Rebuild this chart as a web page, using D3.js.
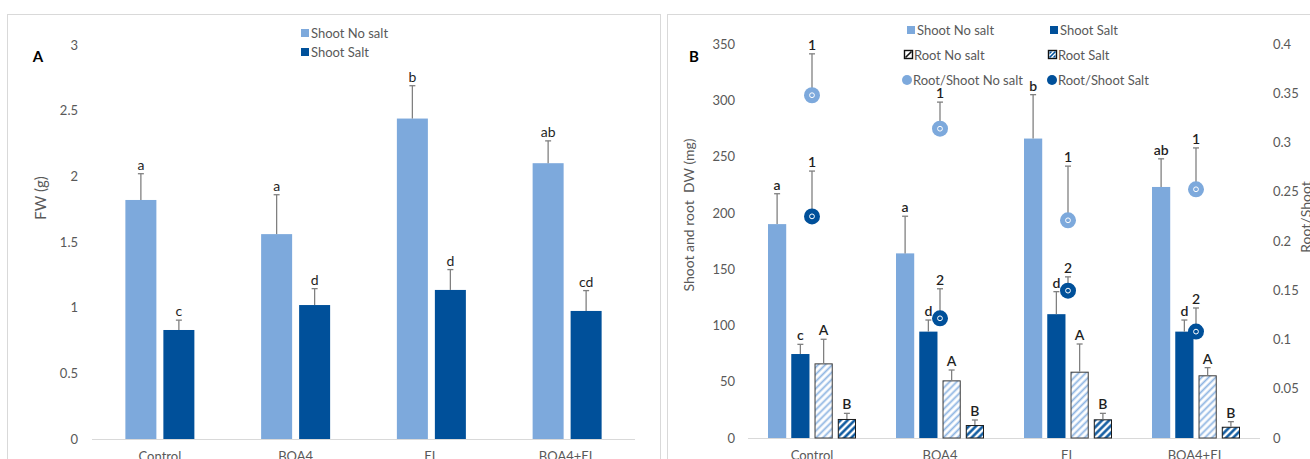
<!DOCTYPE html>
<html>
<head>
<meta charset="utf-8">
<script src="https://cdn.jsdelivr.net/npm/d3@7/dist/d3.min.js"></script>
<style>
  html, body { margin: 0; padding: 0; background: #fff; }
  svg { display: block; font-family: Lato, "Open Sans", sans-serif; }
</style>
</head>
<body>
<svg id="chart" width="1310" height="459"></svg>
<script>
// ---- data ----
const categories = ["Control", "BOA4", "EL", "BOA4+EL"];

// Panel A: fresh weight (g)
const fwTicks = [0, 0.5, 1, 1.5, 2, 2.5, 3];
const fwShootNoSalt = [1.82, 1.56, 2.44, 2.10];
const fwShootNoSaltErr = [0.20, 0.30, 0.25, 0.17];
const fwShootNoSaltLetters = ["a", "a", "b", "ab"];
const fwShootSalt = [0.83, 1.02, 1.135, 0.975];
const fwShootSaltErr = [0.075, 0.125, 0.155, 0.155];
const fwShootSaltLetters = ["c", "d", "d", "cd"];

// Panel B: dry weight (mg) and root/shoot ratio
const dwTicks = [0, 50, 100, 150, 200, 250, 300, 350];
const ratioTicks = [0, 0.05, 0.1, 0.15, 0.2, 0.25, 0.3, 0.35, 0.4];
const dwShootNoSalt = [190, 164, 266, 223];
const dwShootNoSaltErr = [27, 33, 39, 25];
const dwShootNoSaltLetters = ["a", "a", "b", "ab"];
const dwShootSalt = [74.6, 94.5, 110, 94.5];
const dwShootSaltErr = [8.6, 10.3, 20, 10.3];
const dwShootSaltLetters = ["c", "d", "d", "d"];
const dwRootNoSalt = [66.3, 51.2, 58.9, 55.7];
const dwRootNoSaltErr = [21.4, 9.2, 24.6, 6.8];
const dwRootNoSaltLetters = ["A", "A", "A", "A"];
const dwRootSalt = [16.9, 11.5, 16.6, 10];
const dwRootSaltErr = [5, 4.5, 5.3, 4.5];
const dwRootSaltLetters = ["B", "B", "B", "B"];
const ratioNoSalt = [0.348, 0.314, 0.221, 0.2525];
const ratioNoSaltErr = [0.042, 0.027, 0.055, 0.042];
const ratioNoSaltLabels = ["1", "1", "1", "1"];
const ratioSalt = [0.225, 0.1215, 0.1496, 0.108];
const ratioSaltErr = [0.046, 0.030, 0.014, 0.024];
const ratioSaltLabels = ["1", "2", "2", "2"];

// ---- styles ----
const LIGHT = "#7DA9DC";
const DARK = "#00509A";
const GRID = "#d9d9d9";
const AXIS_TEXT = "#595959";
const ERR = "#808080";
const LABEL = "#1f1f1f";

const svg = d3.select("#chart");
svg.append("rect").attr("width", 1310).attr("height", 459).attr("fill", "#fff");

// hatch patterns for root bars
const defs = svg.append("defs");
function hatch(id, color, sw) {
  const p = defs.append("pattern")
    .attr("id", id).attr("patternUnits", "userSpaceOnUse")
    .attr("width", 5).attr("height", 5)
    .attr("patternTransform", "rotate(45)");
  p.append("rect").attr("width", 5).attr("height", 5).attr("fill", "#fff");
  p.append("line").attr("x1", 1.5).attr("y1", 0).attr("x2", 1.5).attr("y2", 5)
    .attr("stroke", color).attr("stroke-width", sw);
}
hatch("hatchLight", "#8DB4E2", 1.8);
hatch("hatchDark", DARK, 2.4);

// panel frames
svg.append("rect").attr("x", 7.5).attr("y", 14.5).attr("width", 653).attr("height", 470)
  .attr("fill", "none").attr("stroke", GRID);
svg.append("rect").attr("x", 667.5).attr("y", 14.5).attr("width", 700).attr("height", 470)
  .attr("fill", "none").attr("stroke", GRID);

function errorBar(g, x, yTop, yBottom) {
  g.append("line").attr("x1", x).attr("x2", x).attr("y1", yBottom).attr("y2", yTop)
    .attr("stroke", ERR).attr("stroke-width", 1.3);
  g.append("line").attr("x1", x - 3).attr("x2", x + 3).attr("y1", yTop).attr("y2", yTop)
    .attr("stroke", ERR).attr("stroke-width", 1.3);
}
function valueLabel(g, x, y, txt, weight) {
  g.append("text").attr("x", x).attr("y", y).attr("text-anchor", "middle")
    .attr("font-size", 14).attr("font-weight", weight || "normal").attr("fill", LABEL).text(txt);
}
function fmt(d) { return String(d); }
function styleAxisText(sel) {
  sel.selectAll("text").attr("font-size", 13).attr("fill", AXIS_TEXT).attr("font-family", "Lato, sans-serif");
}

// ================= Panel A =================
{
  const g = svg.append("g");
  const x = d3.scaleBand().domain(categories).range([92, 635])
    .paddingInner(0.4917).paddingOuter(0.24585);
  const series = ["noSalt", "salt"];
  const xs = d3.scaleBand().domain(series).range([0, x.bandwidth()]).paddingInner(0.184);
  const y = d3.scaleLinear().domain([0, 3]).range([439, 45]);

  // baseline
  g.append("line").attr("x1", 92).attr("x2", 635).attr("y1", 439.5).attr("y2", 439.5)
    .attr("stroke", GRID).attr("stroke-width", 1.2);

  const ya = g.append("g").attr("transform", "translate(92,0)")
    .call(d3.axisLeft(y).tickValues(fwTicks).tickSize(0).tickPadding(14).tickFormat(fmt));
  ya.select(".domain").remove();
  styleAxisText(ya);

  const xa = g.append("g").attr("transform", "translate(0,440)")
    .call(d3.axisBottom(x).tickSize(0).tickPadding(12));
  xa.select(".domain").remove();
  styleAxisText(xa);

  const sets = [
    { key: "noSalt", v: fwShootNoSalt, e: fwShootNoSaltErr, l: fwShootNoSaltLetters, fill: LIGHT },
    { key: "salt", v: fwShootSalt, e: fwShootSaltErr, l: fwShootSaltLetters, fill: DARK }
  ];
  sets.forEach(s => {
    categories.forEach((c, i) => {
      const bx = x(c) + xs(s.key);
      g.append("rect").attr("x", bx).attr("y", y(s.v[i]))
        .attr("width", xs.bandwidth()).attr("height", y(0) - y(s.v[i])).attr("fill", s.fill);
      const cx = bx + xs.bandwidth() / 2;
      errorBar(g, cx, y(s.v[i] + s.e[i]), y(s.v[i]));
      valueLabel(g, cx, y(s.v[i] + s.e[i]) - 4, s.l[i]);
    });
  });

  // titles
  g.append("text").attr("x", 38).attr("y", 62).attr("font-size", 15).attr("font-weight", "bold")
    .attr("text-anchor", "middle").attr("fill", "#000").text("A");
  g.append("text").attr("transform", "translate(46,198) rotate(-90)").attr("text-anchor", "middle")
    .attr("font-size", 15).attr("fill", AXIS_TEXT).text("FW (g)");

  // legend
  const leg = [{ t: "Shoot No salt", c: LIGHT, y: 33 }, { t: "Shoot Salt", c: DARK, y: 52 }];
  leg.forEach(d => {
    g.append("rect").attr("x", 301).attr("y", d.y - 4).attr("width", 8).attr("height", 8).attr("fill", d.c);
    g.append("text").attr("x", 311).attr("y", d.y + 4.5).attr("font-size", 13)
      .attr("fill", AXIS_TEXT).text(d.t);
  });
}

// ================= Panel B =================
{
  const g = svg.append("g");
  const x = d3.scaleBand().domain(categories).range([748, 1260])
    .paddingInner(0.3125).paddingOuter(0.15625);
  const series = ["shootNoSalt", "shootSalt", "rootNoSalt", "rootSalt"];
  const xs = d3.scaleBand().domain(series).range([0, x.bandwidth()]).paddingInner(0.217);
  const y = d3.scaleLinear().domain([0, 350]).range([438, 44]);
  const y2 = d3.scaleLinear().domain([0, 0.4]).range([438, 44]);

  g.append("line").attr("x1", 748).attr("x2", 1260).attr("y1", 438.5).attr("y2", 438.5)
    .attr("stroke", GRID).attr("stroke-width", 1.2);

  const yl = g.append("g").attr("transform", "translate(748,0)")
    .call(d3.axisLeft(y).tickValues(dwTicks).tickSize(0).tickPadding(13).tickFormat(fmt));
  yl.select(".domain").remove();
  styleAxisText(yl);

  const yr = g.append("g").attr("transform", "translate(1260,0)")
    .call(d3.axisRight(y2).tickValues(ratioTicks).tickSize(0).tickPadding(13).tickFormat(fmt));
  yr.select(".domain").remove();
  styleAxisText(yr);

  const xa = g.append("g").attr("transform", "translate(0,439)")
    .call(d3.axisBottom(x).tickSize(0).tickPadding(12));
  xa.select(".domain").remove();
  styleAxisText(xa);

  const sets = [
    { key: "shootNoSalt", v: dwShootNoSalt, e: dwShootNoSaltErr, l: dwShootNoSaltLetters, fill: LIGHT, stroke: "none" },
    { key: "shootSalt", v: dwShootSalt, e: dwShootSaltErr, l: dwShootSaltLetters, fill: DARK, stroke: "none" },
    { key: "rootNoSalt", v: dwRootNoSalt, e: dwRootNoSaltErr, l: dwRootNoSaltLetters, fill: "url(#hatchLight)", stroke: "#3a3a3a" },
    { key: "rootSalt", v: dwRootSalt, e: dwRootSaltErr, l: dwRootSaltLetters, fill: "url(#hatchDark)", stroke: "#1a1a1a" }
  ];
  sets.forEach(s => {
    categories.forEach((c, i) => {
      const bx = x(c) + xs(s.key);
      const outlined = s.stroke !== "none";
      const r = g.append("rect").attr("x", bx + (outlined ? 0.5 : 0)).attr("y", y(s.v[i]) + (outlined ? 0.5 : 0))
        .attr("width", xs.bandwidth() - (outlined ? 1 : 0))
        .attr("height", y(0) - y(s.v[i]) - (outlined ? 0.5 : 0)).attr("fill", s.fill);
      if (outlined) r.attr("stroke", s.stroke).attr("stroke-width", 1);
      const cx = bx + xs.bandwidth() / 2;
      errorBar(g, cx, y(s.v[i] + s.e[i]), y(s.v[i]));
      valueLabel(g, cx, y(s.v[i] + s.e[i]) - 4, s.l[i], 600);
    });
  });

  // root/shoot ratio markers on the secondary axis
  const pts = [
    { v: ratioNoSalt, e: ratioNoSaltErr, l: ratioNoSaltLabels, fill: LIGHT },
    { v: ratioSalt, e: ratioSaltErr, l: ratioSaltLabels, fill: DARK }
  ];
  pts.forEach(s => {
    categories.forEach((c, i) => {
      const cx = x(c) + x.bandwidth() / 2;
      errorBar(g, cx, y2(s.v[i] + s.e[i]), y2(s.v[i]));
      valueLabel(g, cx, y2(s.v[i] + s.e[i]) - 4, s.l[i], 600);
      g.append("circle").attr("cx", cx).attr("cy", y2(s.v[i])).attr("r", 8).attr("fill", s.fill);
      g.append("circle").attr("cx", cx).attr("cy", y2(s.v[i])).attr("r", 2.4)
        .attr("fill", "none").attr("stroke", "#fff").attr("stroke-width", 1);
    });
  });

  // titles
  g.append("text").attr("x", 694).attr("y", 62).attr("font-size", 15).attr("font-weight", "bold")
    .attr("text-anchor", "middle").attr("fill", "#000").text("B");
  g.append("text").attr("transform", "translate(694,215) rotate(-90)").attr("text-anchor", "middle")
    .attr("font-size", 14).attr("fill", AXIS_TEXT).style("white-space", "pre").text("Shoot and root  DW (mg)");
  g.append("text").attr("transform", "translate(1311,217) rotate(-90)").attr("text-anchor", "middle")
    .attr("font-size", 14).attr("fill", AXIS_TEXT).text("Root/Shoot");

  // legend
  const legend = [
    { t: "Shoot No salt", kind: "sq", c: LIGHT, x: 907, y: 30 },
    { t: "Shoot Salt", kind: "sq", c: DARK, x: 1050, y: 30 },
    { t: "Root No salt", kind: "hatch", c: "#fff", x: 904, y: 55 },
    { t: "Root Salt", kind: "hatch", c: DARK, x: 1048, y: 55 },
    { t: "Root/Shoot No salt", kind: "dot", c: LIGHT, x: 902, y: 80 },
    { t: "Root/Shoot Salt", kind: "dot", c: DARK, x: 1047, y: 80 }
  ];
  legend.forEach(d => {
    let tx;
    if (d.kind === "sq") {
      g.append("rect").attr("x", d.x).attr("y", d.y - 4).attr("width", 8).attr("height", 8).attr("fill", d.c);
      tx = d.x + 10;
    } else if (d.kind === "hatch") {
      g.append("rect").attr("x", d.x + 0.5).attr("y", d.y - 4.5).attr("width", 8).attr("height", 8)
        .attr("fill", "#fff").attr("stroke", "#111").attr("stroke-width", 1.4);
      g.append("path").attr("d", `M${d.x + 1.5},${d.y + 2.5} L${d.x + 7.5},${d.y - 3.5}`)
        .attr("stroke", d.c === DARK ? DARK : "#111").attr("stroke-width", 1.6);
      if (d.c === DARK) {
        g.append("path").attr("d", `M${d.x + 1.5},${d.y - 3.5} L${d.x + 1.5},${d.y - 0.5} L${d.x + 4.5},${d.y - 3.5}Z`).attr("fill", DARK);
        g.append("path").attr("d", `M${d.x + 7.5},${d.y + 2.5} L${d.x + 7.5},${d.y - 0.5} L${d.x + 4.5},${d.y + 2.5}Z`).attr("fill", DARK);
      }
      tx = d.x + 10;
    } else {
      g.append("circle").attr("cx", d.x + 5).attr("cy", d.y).attr("r", 5).attr("fill", d.c);
      tx = d.x + 11;
    }
    g.append("text").attr("x", tx).attr("y", d.y + 4.5).attr("font-size", 13)
      .attr("fill", AXIS_TEXT).text(d.t);
  });
}
</script>
</body>
</html>
